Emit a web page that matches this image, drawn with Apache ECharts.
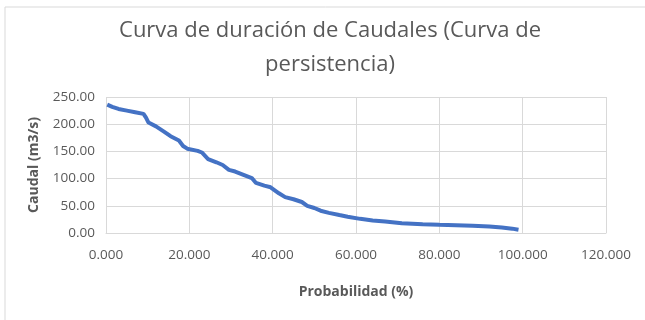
<!DOCTYPE html>
<html>
<head>
<meta charset="utf-8">
<script src="https://cdn.jsdelivr.net/npm/echarts@6/dist/echarts.min.js"></script>
<style>
  html, body { margin: 0; padding: 0; background: #fff; }
  #chart { width: 645px; height: 320px; }
</style>
</head>
<body>
<div id="chart"></div>
<script>
// Flow duration curve: exceedance probability (%) vs discharge (m3/s)
const probabilidad = [0.3, 1.5, 3, 5, 7, 9, 9.6, 10.2, 12, 14, 15.5, 17.5, 18.5, 19.5, 22, 23, 24.5, 26.5, 28, 29.5,
  31, 33, 35, 36, 38, 39.5, 41.5, 43, 45, 47, 48.3, 50, 51.5, 53.5, 56, 58, 61, 64, 67, 71, 76, 80, 88, 92, 95, 97.5, 99];
const caudal = [236, 232, 228, 225, 222, 219, 212, 203, 196, 186, 178, 170, 160, 155, 151, 148, 136, 130, 125, 116,
  113, 107, 101, 92, 87, 84, 73, 66, 62, 57, 50, 46, 41, 37, 33, 30, 26, 23, 21, 18, 16, 15, 13.2, 12, 10, 8, 6];
const xTicks = [0, 20, 40, 60, 80, 100, 120];
const yTicks = [0, 50, 100, 150, 200, 250];

const titleLines = ['Curva de duración de Caudales (Curva de', 'persistencia)'];
const xName = 'Probabilidad (%)';
const yName = 'Caudal (m3/s)';

const font = '"Open Sans", "Noto Sans", sans-serif';
const textColor = '#595959';
const gridColor = '#d9d9d9';

const chart = echarts.init(document.getElementById('chart'), null, { renderer: 'canvas' });

chart.setOption({
  animation: false,
  backgroundColor: '#fff',
  graphic: [{
    type: 'rect',
    shape: { x: 5, y: 7, width: 700, height: 400 },
    style: { fill: 'none', stroke: gridColor, lineWidth: 1 },
    silent: true
  }],
  title: {
    text: titleLines.join('\n'),
    left: 325,
    textAlign: 'center',
    top: 9,
    textStyle: { fontFamily: font, fontSize: 22, fontWeight: 'normal', color: textColor, lineHeight: 34 }
  },
  grid: { left: 106, right: 39, top: 97, bottom: 87, containLabel: false },
  xAxis: {
    type: 'value',
    min: xTicks[0],
    max: xTicks[xTicks.length - 1],
    interval: xTicks[1] - xTicks[0],
    name: xName,
    nameLocation: 'middle',
    nameGap: 52,
    nameTextStyle: { fontFamily: font, fontSize: 14, fontWeight: 'bold', color: textColor },
    axisLine: { show: true, lineStyle: { color: gridColor, width: 1 } },
    axisTick: { show: false },
    splitLine: { show: true, lineStyle: { color: gridColor, width: 1 } },
    axisLabel: {
      fontFamily: font, fontSize: 13.5, color: textColor, margin: 15,
      formatter: v => v.toFixed(3)
    }
  },
  yAxis: {
    type: 'value',
    min: yTicks[0],
    max: yTicks[yTicks.length - 1],
    interval: yTicks[1] - yTicks[0],
    name: yName,
    nameLocation: 'middle',
    nameGap: 65,
    nameRotate: 90,
    nameTextStyle: { fontFamily: font, fontSize: 14, fontWeight: 'bold', color: textColor },
    axisLine: { show: false },
    axisTick: { show: false },
    splitLine: { show: true, lineStyle: { color: gridColor, width: 1 } },
    axisLabel: {
      fontFamily: font, fontSize: 13.5, color: textColor, margin: 11,
      formatter: v => v.toFixed(2)
    }
  },
  series: [{
    type: 'line',
    data: probabilidad.map((p, i) => [p, caudal[i]]),
    showSymbol: false,
    smooth: false,
    lineStyle: { color: '#4472C4', width: 4 },
    itemStyle: { color: '#4472C4' }
  }]
});
</script>
</body>
</html>
